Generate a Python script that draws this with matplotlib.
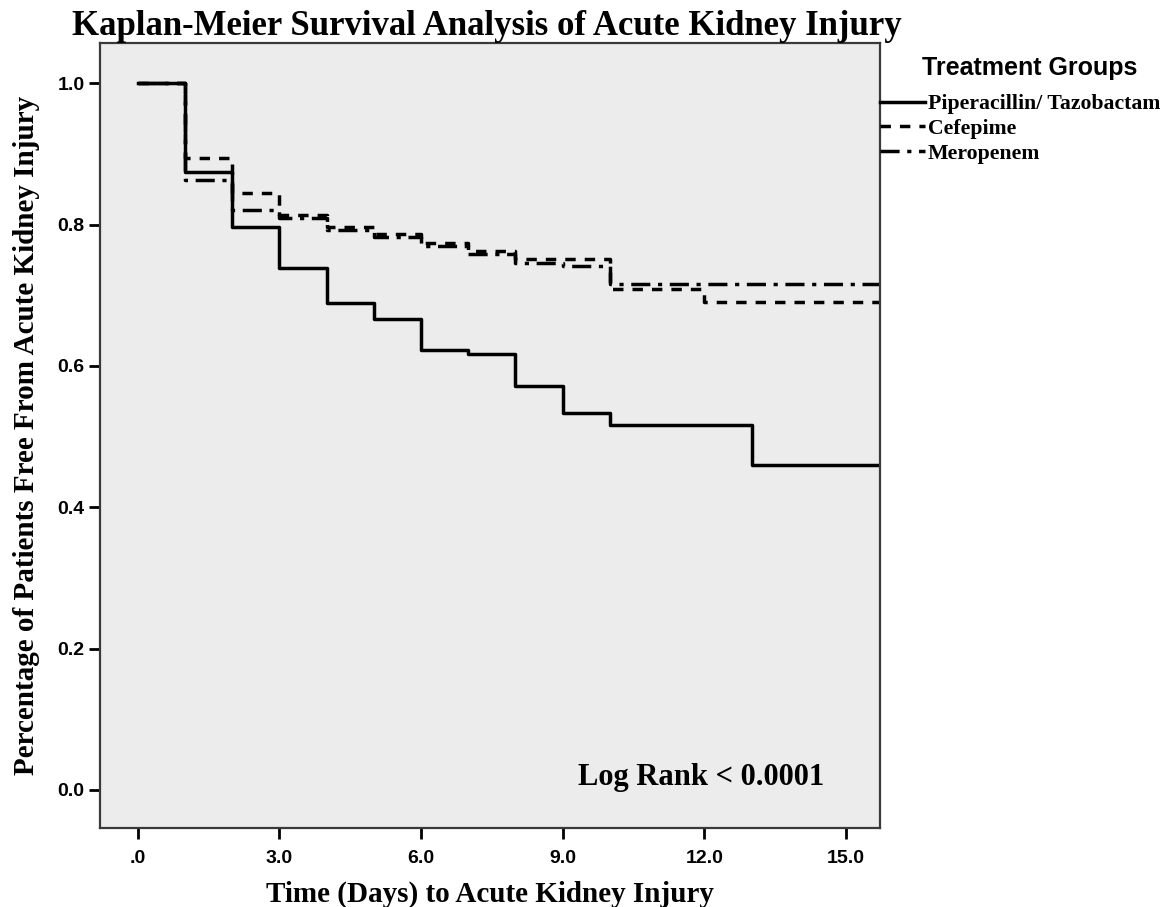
#!/usr/bin/env python
"""
Kaplan-Meier curves for acute kidney injury by treatment group
"""

import matplotlib
matplotlib.use("Agg")
import matplotlib.pyplot as plt

# Event times (days) and survival level after each step
PIP_TIMES = [0, 1, 2, 3, 4, 5, 6, 7, 8, 9, 10, 13, 16]
PIP_SURV = [1.0, 0.875, 0.796, 0.738, 0.689, 0.666, 0.622, 0.617, 0.571, 0.533, 0.516, 0.460, 0.460]

CEF_TIMES = [0, 1, 2, 3, 4, 5, 6, 7, 8, 10, 12, 16]
CEF_SURV = [1.0, 0.894, 0.845, 0.814, 0.797, 0.786, 0.774, 0.763, 0.751, 0.709, 0.690, 0.690]

MER_TIMES = [0, 1, 2, 3, 4, 5, 6, 7, 8, 9, 10, 16]
MER_SURV = [1.0, 0.863, 0.820, 0.810, 0.793, 0.782, 0.769, 0.759, 0.745, 0.741, 0.716, 0.716]

GROUPS = ["Piperacillin/ Tazobactam", "Cefepime", "Meropenem"]
X_TICKS = [0, 3, 6, 9, 12, 15]
X_LABELS = [".0", "3.0", "6.0", "9.0", "12.0", "15.0"]
Y_TICKS = [0.0, 0.2, 0.4, 0.6, 0.8, 1.0]
Y_LABELS = ["0.0", "0.2", "0.4", "0.6", "0.8", "1.0"]

SERIF = "Liberation Serif"
SANS = "Liberation Sans"

if __name__ == "__main__":
    fig = plt.figure(figsize=(11.65, 9.07), dpi=100)
    ax = fig.add_axes([0.0858, 0.0871, 0.6696, 0.8655])
    ax.set_facecolor("#ececec")

    ax.step(PIP_TIMES, PIP_SURV, where="post", color="black", lw=2.5,
            label=GROUPS[0])
    ax.step(CEF_TIMES, CEF_SURV, where="post", color="black", lw=2.5,
            dashes=(3.0, 2.6), label=GROUPS[1])
    ax.step(MER_TIMES, MER_SURV, where="post", color="black", lw=2.5,
            dashes=(5.5, 2.2, 1.2, 2.2), label=GROUPS[2])

    ax.set_xlim(-0.8, 15.72)
    ax.set_ylim(-0.054, 1.057)

    ax.set_xticks(X_TICKS)
    ax.set_xticklabels(X_LABELS)
    ax.set_yticks(Y_TICKS)
    ax.set_yticklabels(Y_LABELS)
    for lab in ax.get_xticklabels() + ax.get_yticklabels():
        lab.set_fontfamily(SANS)
        lab.set_fontweight("bold")
        lab.set_fontsize(14)
    ax.tick_params(direction="out", length=8, width=2, color="black")
    ax.tick_params(axis="x", pad=8)
    ax.tick_params(axis="y", pad=3)

    for side in ["left", "bottom", "right", "top"]:
        ax.spines[side].set_color("#3a3a3a")
        ax.spines[side].set_linewidth(1.6)

    ax.set_title("Kaplan-Meier Survival Analysis of Acute Kidney Injury",
                 fontfamily=SERIF, fontweight="bold", fontsize=25, pad=5,
                 x=0.496)
    ax.set_xlabel("Time (Days) to Acute Kidney Injury", fontfamily=SERIF,
                  fontweight="bold", fontsize=21, labelpad=10)
    ax.set_ylabel("Percentage of Patients Free From Acute Kidney Injury",
                  fontfamily=SERIF, fontweight="bold", fontsize=21,
                  labelpad=12.5)

    ax.text(0.929, 0.064, "Log Rank < 0.0001", transform=ax.transAxes,
            ha="right", va="center", fontfamily=SERIF, fontweight="bold",
            fontsize=22)

    fig.text(1030 / 1165, 1 - 68 / 907, "Treatment Groups", ha="center",
             va="center", fontfamily=SANS, fontweight="bold", fontsize=18)
    ax.legend(loc="upper left", bbox_to_anchor=(880 / 1165, 1 - 94 / 907),
              bbox_transform=fig.transFigure, frameon=False,
              handlelength=2.06, handletextpad=0.14, borderaxespad=0.0,
              borderpad=0.0, labelspacing=0.2,
              prop={"family": SERIF, "weight": "bold", "size": 15.7})

    fig.savefig("out.png", dpi=100, facecolor="white")
